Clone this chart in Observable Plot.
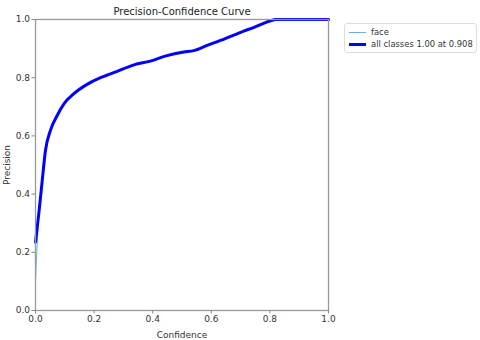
<!DOCTYPE html>
<html>
<head>
<meta charset="utf-8">
<script src="https://cdn.jsdelivr.net/npm/d3@7"></script>
<script src="https://cdn.jsdelivr.net/npm/@observablehq/plot@0.6"></script>
<style>
  html, body { margin: 0; padding: 0; background: #fff; }
  #wrap { position: relative; width: 480px; height: 340px; font-family: "DejaVu Sans", sans-serif; }
  #legend { position: absolute; left: 344px; top: 23px; width: 131px; height: 28px; border: 1px solid #ddd; border-radius: 3px; background: #fff; font-size: 8.4px; color: #333; }
  .row { position: absolute; left: 0; height: 12px; line-height: 12px; }
  .sw { position: absolute; left: 4px; top: 6px; width: 17px; }
  .lab { position: absolute; left: 26px; white-space: nowrap; }
</style>
</head>
<body>
<div id="wrap"></div>
<script>
const confidence = [0, 0.012, 0.023, 0.034, 0.051, 0.074, 0.097, 0.131, 0.176, 0.222, 0.256, 0.279, 0.336, 0.392, 0.449, 0.506, 0.54, 0.586, 0.631, 0.70, 0.75, 0.80, 0.82, 0.9, 1.0];
const allClasses = [0.235, 0.34, 0.447, 0.55, 0.619, 0.670, 0.71, 0.745, 0.777, 0.80, 0.813, 0.822, 0.844, 0.857, 0.876, 0.888, 0.893, 0.911, 0.928, 0.956, 0.975, 0.995, 1.0, 1.0, 1.0];
const face =       [0.10, 0.34, 0.447, 0.55, 0.619, 0.670, 0.71, 0.745, 0.777, 0.80, 0.813, 0.822, 0.844, 0.857, 0.876, 0.888, 0.893, 0.911, 0.928, 0.956, 0.975, 0.995, 1.0, 1.0, 1.0];
const ticks = [0, 0.2, 0.4, 0.6, 0.8, 1.0];
const seriesNames = ["face", "all classes 1.00 at 0.908"];
const seriesColors = ["#6aaee0", "#0000ff"];
const seriesWidths = [1, 3];
const title = "Precision-Confidence Curve";

const rows = [];
confidence.forEach((c, i) => {
  rows.push({series: seriesNames[0], c, p: face[i]});
});
confidence.forEach((c, i) => {
  rows.push({series: seriesNames[1], c, p: allClasses[i]});
});

const chart = Plot.plot({
  width: 480,
  height: 340,
  marginLeft: 35,
  marginRight: 152,
  marginTop: 19,
  marginBottom: 30,
  style: {fontFamily: "DejaVu Sans, sans-serif", fontSize: "9px", color: "#333", background: "#fff"},
  x: {domain: [0, 1], ticks, tickFormat: d3.format(".1f"), label: "Confidence", labelAnchor: "center", labelArrow: "none", labelOffset: 27},
  y: {domain: [0, 1], ticks, tickFormat: d3.format(".1f"), label: "Precision", labelAnchor: "center", labelArrow: "none", labelOffset: 32},
  marks: [
    Plot.line(rows.filter(d => d.series === seriesNames[0]), {x: "c", y: "p", stroke: seriesColors[0], strokeWidth: seriesWidths[0], curve: "monotone-x"}),
    Plot.line(rows.filter(d => d.series === seriesNames[1]), {x: "c", y: "p", stroke: seriesColors[1], strokeWidth: seriesWidths[1], curve: "monotone-x"}),
    Plot.frame({stroke: "#999", strokeWidth: 1.3}),
    Plot.axisX({ticks, tickFormat: d3.format(".1f"), stroke: "#888", tickSize: 3.5, tickPadding: 2, label: "Confidence", labelAnchor: "center", labelArrow: "none", labelOffset: 27}),
    Plot.axisY({ticks, tickFormat: d3.format(".1f"), stroke: "#888", tickSize: 3.5, tickPadding: 2, label: "Precision", labelAnchor: "center", labelArrow: "none", labelOffset: 32}),
    Plot.text([title], {text: d => d, frameAnchor: "top", dy: -12, fontSize: 10, fill: "#222"})
  ]
});
const wrap = document.getElementById("wrap");
wrap.appendChild(chart);

const legend = document.createElement("div");
legend.id = "legend";
seriesNames.forEach((name, i) => {
  const row = document.createElement("div");
  row.className = "row";
  row.style.top = (2 + i * 12) + "px";
  const sw = document.createElement("div");
  sw.className = "sw";
  sw.style.height = seriesWidths[i] + "px";
  sw.style.marginTop = (-seriesWidths[i] / 2) + "px";
  sw.style.background = seriesColors[i];
  const lab = document.createElement("div");
  lab.className = "lab";
  lab.textContent = name;
  row.appendChild(sw);
  row.appendChild(lab);
  legend.appendChild(row);
});
wrap.appendChild(legend);
</script>
</body>
</html>
